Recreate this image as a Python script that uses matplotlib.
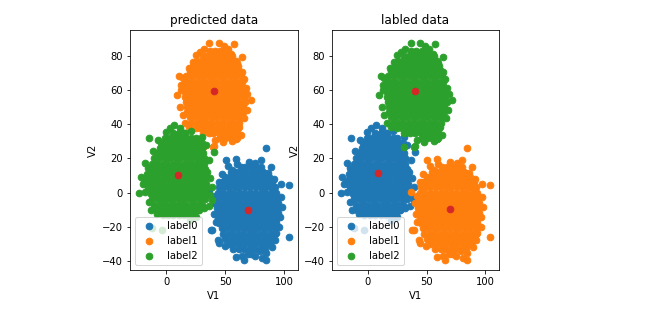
import matplotlib
matplotlib.use("Agg")
import matplotlib.pyplot as plt

# ---------------------------------------------------------------
# Sample points of the three blobs, written row by row (y, [x...])
# plus the loose points around each blob's rim.
# ---------------------------------------------------------------
blob_a_rows = [
    (15, [63, 67, 72, 76, 80]),
    (12, [55, 59, 64, 68, 73, 77, 82]),
    (9, [50, 54, 58, 63, 67, 72, 76, 81, 85, 87]),
    (6, [47, 51, 56, 60, 65, 69, 74, 78, 83, 87, 90]),
    (3, [45, 49, 53, 58, 62, 67, 71, 76, 80, 85, 89, 92]),
    (0, [44, 48, 53, 57, 62, 66, 71, 75, 80, 84, 89, 93]),
    (-3, [44, 49, 53, 58, 62, 67, 71, 76, 80, 85, 89, 94]),
    (-6, [43, 48, 52, 57, 61, 66, 70, 75, 79, 84, 88, 93, 95]),
    (-9, [43, 47, 52, 56, 61, 65, 70, 74, 79, 83, 88, 92, 95]),
    (-12, [44, 48, 53, 57, 62, 66, 71, 75, 80, 84, 89, 93, 95]),
    (-15, [44, 49, 53, 58, 62, 67, 71, 76, 80, 85, 89, 94]),
    (-18, [45, 50, 54, 59, 63, 68, 72, 77, 81, 86, 90, 93]),
    (-21, [47, 51, 56, 60, 65, 69, 74, 78, 83, 87, 92]),
    (-24, [48, 53, 57, 62, 66, 71, 75, 80, 84, 89, 92]),
    (-27, [50, 54, 59, 63, 68, 72, 77, 81, 86, 90]),
    (-30, [53, 57, 62, 66, 71, 75, 80, 84, 88]),
    (-33, [57, 62, 66, 71, 75, 80, 84]),
]
blob_a_rim = [
    (84.2, 26.3), (50.3, 19.1), (58.8, 19.7), (80.0, 19.1), (88.5, 15.2),
    (104.0, 4.5), (96.9, -2.4), (104.0, -25.8), (89.8, -31.7), (84.2, -35.5),
    (84.2, -39.4), (81.4, -38.4), (65.8, -39.4), (64.4, -37.0), (58.8, -37.5),
    (44.7, -29.7), (39.0, -22.0), (37.6, -21.9), (40.4, -6.2), (44.7, 6.4),
    (55.9, 13.3), (72.0, -36.0), (92.0, -28.0), (96.0, -20.0), (97.0, 5.0),
    (70.0, 18.0), (75.0, -37.0), (36.7, 0.5), (43.7, -27.7), (60.0, 16.5),
    (86.5, 11.2), (91.4, 0.8), (97.8, -8.7), (96.6, -14.3), (93.3, -23.6),
    (47.2, 10.8), (41.5, -2.1), (40.8, -12.6), (42.1, -17.4), (49.6, -31.2),
    (69.3, -35.8), (79.1, -34.4), (91.0, 7.9), (52.6, 15.8), (75.5, 17.6),
]

blob_b_rows = [
    (83, [37, 41, 46, 50]),
    (80, [31, 35, 39, 44, 48, 52, 56]),
    (77, [26, 30, 34, 38, 42, 47, 51, 55, 59]),
    (74, [23, 27, 32, 36, 40, 45, 49, 53, 57, 61]),
    (71, [20, 25, 29, 34, 38, 42, 47, 51, 56, 60, 62]),
    (68, [17, 22, 27, 31, 36, 40, 45, 49, 54, 58, 63]),
    (65, [16, 20, 24, 29, 33, 38, 42, 47, 51, 56, 60, 64]),
    (62, [16, 21, 25, 30, 34, 39, 43, 48, 52, 57, 61, 64]),
    (59, [16, 20, 24, 29, 33, 38, 42, 47, 51, 56, 60, 65]),
    (56, [16, 21, 25, 30, 34, 39, 43, 48, 52, 57, 61, 66]),
    (53, [17, 21, 26, 30, 35, 39, 44, 48, 53, 57, 62, 67]),
    (50, [18, 23, 27, 32, 36, 41, 45, 50, 54, 59, 63, 65]),
    (47, [18, 22, 26, 31, 35, 40, 44, 49, 53, 58, 62, 65]),
    (44, [20, 24, 29, 33, 38, 42, 47, 51, 56, 60, 63]),
    (41, [21, 26, 30, 35, 39, 44, 48, 53, 57, 62]),
    (38, [25, 29, 34, 38, 43, 47, 52, 56, 61]),
    (35, [31, 36, 40, 45, 49, 54, 58, 60]),
    (32, [46, 50, 55, 60]),
]
blob_b_rim = [
    (36.5, 87.4), (44.7, 87.8), (57.4, 86.9), (25.0, 80.6), (10.8, 68.3),
    (9.3, 57.2), (16.4, 40.6), (40.4, 27.5), (53.1, 32.8), (61.6, 38.6),
    (68.6, 48.4), (71.5, 54.2), (67.3, 61.1), (64.4, 70.8), (64.4, 79.6),
    (32.0, 84.0), (52.0, 84.0), (60.0, 76.0), (19.0, 73.0), (13.0, 63.0),
    (12.0, 50.0), (63.0, 34.0), (48.0, 29.5), (56.0, 30.0), (31.0, 26.9),
    (39.5, 26.9), (28.4, 82.1), (55.3, 81.2), (22.6, 76.4), (14.1, 67.0),
    (12.7, 59.9), (13.9, 45.6), (19.3, 38.2), (66.2, 43.7), (68.9, 57.8),
    (66.1, 66.3), (41.8, 30.8), (59.1, 31.4), (48.7, 85.6),
]

blob_c_rows = [
    (35, [6, 11, 15]),
    (32, [-1, 3, 8, 12, 17, 21, 25]),
    (29, [-4, 0, 5, 9, 14, 18, 23, 27, 30]),
    (26, [-5, -1, 3, 8, 12, 17, 21, 26, 30]),
    (23, [-8, -3, 1, 6, 10, 15, 19, 24, 28, 31]),
    (20, [-10, -6, -1, 3, 8, 12, 17, 21, 26, 30, 32]),
    (17, [-12, -8, -3, 1, 6, 10, 15, 19, 24, 28, 32]),
    (14, [-14, -10, -5, -1, 4, 8, 13, 17, 22, 26, 31, 33]),
    (11, [-16, -11, -7, -2, 2, 7, 11, 16, 20, 25, 29, 33]),
    (8, [-16, -12, -8, -3, 1, 6, 10, 15, 19, 24, 28, 33]),
    (5, [-17, -13, -9, -4, 0, 5, 9, 14, 18, 23, 27, 32, 34]),
    (2, [-15, -11, -7, -2, 2, 7, 11, 16, 20, 25, 29, 34]),
    (-1, [-13, -9, -4, 0, 5, 9, 14, 18, 23, 27, 32, 34]),
    (-4, [-12, -7, -3, 2, 6, 11, 15, 20, 24, 29, 33]),
    (-7, [-10, -5, -1, 4, 8, 13, 17, 22, 26, 30]),
    (-10, [-9, -4, 0, 5, 9, 14, 18, 23, 27]),
    (-13, [-3, 2, 6, 11, 15, 20, 24]),
]
blob_c_rim = [
    (-14.7, 31.8), (-21.7, 9.3), (-23.0, 0.0), (-18.0, 0.5), (-17.5, 17.2),
    (7.0, 39.6), (12.0, 38.0), (30.5, 32.8), (16.4, 34.7), (-0.5, 35.7),
    (40.4, 24.0), (39.0, 3.5), (39.0, -4.3), (27.7, -10.2), (-13.2, -10.2),
    (-11.8, -20.9), (-3.4, -21.9), (35.0, 12.0), (36.0, -8.0), (20.0, -16.0),
    (25.0, -14.0), (-20.0, 5.0), (3.0, 38.0), (-6.8, 30.9), (-11.4, 24.2),
    (-15.3, 14.6), (-18.7, 6.1), (33.6, 27.7), (36.4, 18.9), (37.2, 8.3),
    (36.8, -1.6), (31.8, -8.9), (-14.9, -5.2), (-7.6, -12.7), (21.3, 36.2),
]

# cluster index assigned by the model and by the ground truth
predicted_label = {"a": 0, "b": 1, "c": 2}
true_label = {"c": 0, "a": 1, "b": 2}

predicted_centers = [(69.5, -10.0), (40.7, 59.7), (9.9, 10.5)]
true_centers = [(70.0, -9.6), (40.3, 59.5), (9.0, 11.3)]

label_names = ["label0", "label1", "label2"]
label_colors = ["#1f77b4", "#ff7f0e", "#2ca02c"]
center_color = "#d62728"


def blob_points(rows, rim):
    xs, ys = [], []
    for y, row in rows:
        for x in row:
            xs.append(x)
            ys.append(y)
    for x, y in rim:
        xs.append(x)
        ys.append(y)
    return xs, ys


blobs = {
    "a": blob_points(blob_a_rows, blob_a_rim),
    "b": blob_points(blob_b_rows, blob_b_rim),
    "c": blob_points(blob_c_rows, blob_c_rim),
}

W, H, DPI = 667, 332, 72
fig = plt.figure(figsize=(W / DPI, H / DPI), dpi=DPI)
ax_pred = fig.add_axes([130 / W, 62 / H, 168 / W, 240 / H])
ax_true = fig.add_axes([332 / W, 62 / H, 167 / W, 240 / H])


def draw_panel(ax, mapping, centers, title):
    for k, name in enumerate(label_names):
        key = [b for b, lab in mapping.items() if lab == k][0]
        xs, ys = blobs[key]
        ax.scatter(xs, ys, s=44, linewidths=1.0, color=label_colors[k],
                   label=name)
    ax.scatter([c[0] for c in centers], [c[1] for c in centers],
               s=44, linewidths=1.0, color=center_color)
    ax.set_xlim(-30.6, 111.7)
    ax.set_ylim(-45.3, 95.2)
    ax.set_xticks([0, 50, 100])
    ax.set_yticks([-40, -20, 0, 20, 40, 60, 80])
    ax.set_xlabel("V1")
    ax.set_ylabel("V2")
    ax.set_title(title)
    ax.legend(loc="lower left")


draw_panel(ax_pred, predicted_label, predicted_centers, "predicted data")
draw_panel(ax_true, true_label, true_centers, "labled data")

fig.savefig("out.png", dpi=DPI)
